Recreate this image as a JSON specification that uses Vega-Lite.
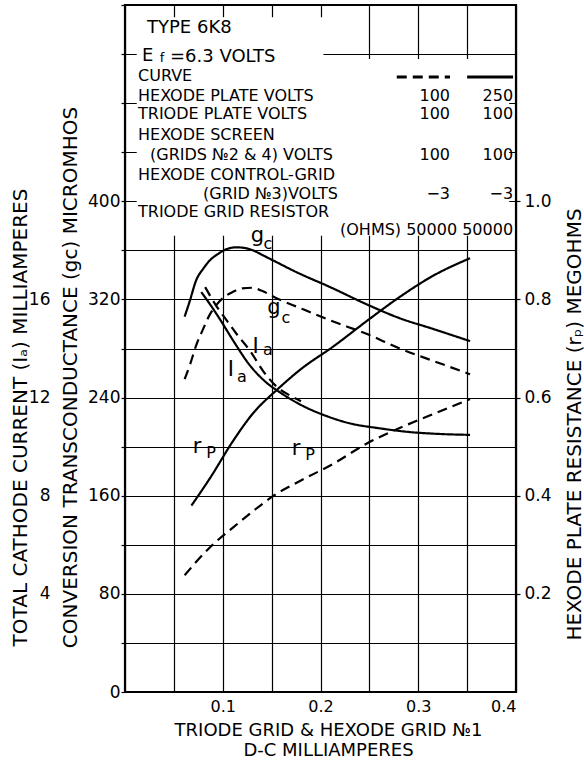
{
  "$schema": "https://vega.github.io/schema/vega-lite/v6.json",
  "width": 391,
  "height": 687,
  "autosize": {"type": "none"},
  "padding": {"left": 125, "top": 5, "right": 68, "bottom": 68},
  "background": "white",
  "config": {
    "font": "DejaVu Sans",
    "view": {"stroke": "black", "strokeWidth": 2.2},
    "axis": {
      "labelFont": "DejaVu Sans", "titleFont": "DejaVu Sans",
      "labelColor": "black", "titleColor": "black",
      "labelFontSize": 17, "titleFontSize": 20, "titleFontWeight": "normal",
      "gridColor": "black", "gridOpacity": 1, "gridWidth": 1.2,
      "tickColor": "black", "tickWidth": 1.2, "domainColor": "black"
    },
    "text": {"font": "DejaVu Sans", "color": "black"}
  },
  "datasets": {
    "curves": [
      {"q": "gc", "hv": "250", "ma": 0.061, "v": 306},
      {"q": "gc", "hv": "250", "ma": 0.066, "v": 318},
      {"q": "gc", "hv": "250", "ma": 0.073, "v": 336},
      {"q": "gc", "hv": "250", "ma": 0.080, "v": 345},
      {"q": "gc", "hv": "250", "ma": 0.087, "v": 352},
      {"q": "gc", "hv": "250", "ma": 0.095, "v": 357},
      {"q": "gc", "hv": "250", "ma": 0.104, "v": 361},
      {"q": "gc", "hv": "250", "ma": 0.114, "v": 362.5},
      {"q": "gc", "hv": "250", "ma": 0.122, "v": 362},
      {"q": "gc", "hv": "250", "ma": 0.131, "v": 360},
      {"q": "gc", "hv": "250", "ma": 0.141, "v": 356},
      {"q": "gc", "hv": "250", "ma": 0.151, "v": 352},
      {"q": "gc", "hv": "250", "ma": 0.176, "v": 342},
      {"q": "gc", "hv": "250", "ma": 0.210, "v": 330},
      {"q": "gc", "hv": "250", "ma": 0.250, "v": 315},
      {"q": "gc", "hv": "250", "ma": 0.280, "v": 305},
      {"q": "gc", "hv": "250", "ma": 0.315, "v": 296},
      {"q": "gc", "hv": "250", "ma": 0.353, "v": 286},
      {"q": "gc", "hv": "100", "ma": 0.061, "v": 255},
      {"q": "gc", "hv": "100", "ma": 0.067, "v": 268},
      {"q": "gc", "hv": "100", "ma": 0.073, "v": 283},
      {"q": "gc", "hv": "100", "ma": 0.080, "v": 296},
      {"q": "gc", "hv": "100", "ma": 0.087, "v": 308},
      {"q": "gc", "hv": "100", "ma": 0.094, "v": 316},
      {"q": "gc", "hv": "100", "ma": 0.100, "v": 321},
      {"q": "gc", "hv": "100", "ma": 0.110, "v": 326},
      {"q": "gc", "hv": "100", "ma": 0.120, "v": 329},
      {"q": "gc", "hv": "100", "ma": 0.130, "v": 329.5},
      {"q": "gc", "hv": "100", "ma": 0.140, "v": 327},
      {"q": "gc", "hv": "100", "ma": 0.155, "v": 321},
      {"q": "gc", "hv": "100", "ma": 0.179, "v": 313},
      {"q": "gc", "hv": "100", "ma": 0.213, "v": 302},
      {"q": "gc", "hv": "100", "ma": 0.247, "v": 292},
      {"q": "gc", "hv": "100", "ma": 0.281, "v": 280},
      {"q": "gc", "hv": "100", "ma": 0.315, "v": 270},
      {"q": "gc", "hv": "100", "ma": 0.353, "v": 259},
      {"q": "ia", "hv": "250", "ma": 0.078, "v": 16.3},
      {"q": "ia", "hv": "250", "ma": 0.087, "v": 15.8},
      {"q": "ia", "hv": "250", "ma": 0.097, "v": 15.2},
      {"q": "ia", "hv": "250", "ma": 0.111, "v": 14.3},
      {"q": "ia", "hv": "250", "ma": 0.128, "v": 13.3},
      {"q": "ia", "hv": "250", "ma": 0.145, "v": 12.6},
      {"q": "ia", "hv": "250", "ma": 0.159, "v": 12.2},
      {"q": "ia", "hv": "250", "ma": 0.180, "v": 11.7},
      {"q": "ia", "hv": "250", "ma": 0.206, "v": 11.25},
      {"q": "ia", "hv": "250", "ma": 0.230, "v": 10.95},
      {"q": "ia", "hv": "250", "ma": 0.260, "v": 10.75},
      {"q": "ia", "hv": "250", "ma": 0.290, "v": 10.6},
      {"q": "ia", "hv": "250", "ma": 0.320, "v": 10.52},
      {"q": "ia", "hv": "250", "ma": 0.353, "v": 10.48},
      {"q": "ia", "hv": "100", "ma": 0.082, "v": 16.5},
      {"q": "ia", "hv": "100", "ma": 0.094, "v": 15.7},
      {"q": "ia", "hv": "100", "ma": 0.104, "v": 15.15},
      {"q": "ia", "hv": "100", "ma": 0.114, "v": 14.6},
      {"q": "ia", "hv": "100", "ma": 0.128, "v": 13.9},
      {"q": "ia", "hv": "100", "ma": 0.141, "v": 13.1},
      {"q": "ia", "hv": "100", "ma": 0.155, "v": 12.45},
      {"q": "ia", "hv": "100", "ma": 0.168, "v": 12.1},
      {"q": "ia", "hv": "100", "ma": 0.180, "v": 11.85},
      {"q": "rp", "hv": "250", "ma": 0.068, "v": 0.38},
      {"q": "rp", "hv": "250", "ma": 0.087, "v": 0.436},
      {"q": "rp", "hv": "250", "ma": 0.111, "v": 0.513},
      {"q": "rp", "hv": "250", "ma": 0.131, "v": 0.568},
      {"q": "rp", "hv": "250", "ma": 0.155, "v": 0.615},
      {"q": "rp", "hv": "250", "ma": 0.180, "v": 0.658},
      {"q": "rp", "hv": "250", "ma": 0.213, "v": 0.704},
      {"q": "rp", "hv": "250", "ma": 0.250, "v": 0.760},
      {"q": "rp", "hv": "250", "ma": 0.281, "v": 0.805},
      {"q": "rp", "hv": "250", "ma": 0.315, "v": 0.848},
      {"q": "rp", "hv": "250", "ma": 0.353, "v": 0.884},
      {"q": "rp", "hv": "100", "ma": 0.061, "v": 0.238},
      {"q": "rp", "hv": "100", "ma": 0.087, "v": 0.295},
      {"q": "rp", "hv": "100", "ma": 0.111, "v": 0.336},
      {"q": "rp", "hv": "100", "ma": 0.141, "v": 0.384},
      {"q": "rp", "hv": "100", "ma": 0.152, "v": 0.400},
      {"q": "rp", "hv": "100", "ma": 0.179, "v": 0.430},
      {"q": "rp", "hv": "100", "ma": 0.213, "v": 0.465},
      {"q": "rp", "hv": "100", "ma": 0.247, "v": 0.506},
      {"q": "rp", "hv": "100", "ma": 0.281, "v": 0.538},
      {"q": "rp", "hv": "100", "ma": 0.315, "v": 0.566},
      {"q": "rp", "hv": "100", "ma": 0.353, "v": 0.597}
    ],
    "boxes": [
      {"ma": 0.012, "ma2": 0.393, "y1": 372, "y2": 516},
      {"ma": 0.012, "ma2": 0.203, "y1": 516, "y2": 550}
    ],
    "leg": [
      {"hv": "100", "ma": 0.278, "ma2": 0.3325, "y": 501.3},
      {"hv": "250", "ma": 0.350, "ma2": 0.397, "y": 501.3}
    ],
    "head": [
      {"t": "TYPE 6K8", "ma": 0.0225, "y": 541.2},
      {"t": "E", "ma": 0.0174, "y": 518.4},
      {"t": "=6.3 VOLTS", "ma": 0.046, "y": 517.6}
    ],
    "txtL": [
      {"t": "CURVE", "ma": 0.0133, "y": 502.5},
      {"t": "HEXODE PLATE VOLTS", "ma": 0.0133, "y": 485.8},
      {"t": "TRIODE PLATE VOLTS", "ma": 0.0133, "y": 471.1},
      {"t": "HEXODE SCREEN", "ma": 0.0133, "y": 454},
      {"t": "(GRIDS №2 & 4) VOLTS", "ma": 0.0256, "y": 437.7},
      {"t": "HEXODE CONTROL-GRID", "ma": 0.0133, "y": 421.4},
      {"t": "(GRID №3)VOLTS", "ma": 0.0798, "y": 406.3},
      {"t": "TRIODE GRID RESISTOR", "ma": 0.0133, "y": 391.3}
    ],
    "txtR": [
      {"t": "100", "ma": 0.3325, "y": 485.8},
      {"t": "250", "ma": 0.397, "y": 485.8},
      {"t": "100", "ma": 0.3325, "y": 471.1},
      {"t": "100", "ma": 0.397, "y": 471.1},
      {"t": "100", "ma": 0.3325, "y": 437.7},
      {"t": "100", "ma": 0.397, "y": 437.7},
      {"t": "−3", "ma": 0.3325, "y": 406.3},
      {"t": "−3", "ma": 0.397, "y": 406.3},
      {"t": "(OHMS) 50000 50000", "ma": 0.397, "y": 376.6}
    ],
    "big": [
      {"t": "g", "ma": 0.1355, "y": 371.7},
      {"t": "g", "ma": 0.1524, "y": 313},
      {"t": "I", "ma": 0.1335, "y": 281.2},
      {"t": "I", "ma": 0.1084, "y": 262.5},
      {"t": "r", "ma": 0.0737, "y": 199.7},
      {"t": "r", "ma": 0.1749, "y": 198}
    ],
    "sub": [
      {"t": "c", "ma": 0.1463, "y": 365.2},
      {"t": "c", "ma": 0.1647, "y": 304.8},
      {"t": "a", "ma": 0.1463, "y": 278.8},
      {"t": "a", "ma": 0.1197, "y": 256.8},
      {"t": "P", "ma": 0.088, "y": 194.8},
      {"t": "P", "ma": 0.1893, "y": 193.2}
    ],
    "sub2": [
      {"t": "f", "ma": 0.0379, "y": 516.5}
    ]
  },
  "encoding": {
    "x": {
      "field": "ma", "type": "quantitative",
      "scale": {"domain": [0, 0.4], "nice": false},
      "axis": {
        "values": [0, 0.05, 0.1, 0.15, 0.2, 0.25, 0.3, 0.35, 0.4],
        "grid": true, "ticks": false, "domain": false, "labelPadding": 6,
        "labelFontSize": 16,
        "format": ".1f",
        "labelExpr": "datum.value > 0.01 && abs(datum.value * 10 - round(datum.value * 10)) < 0.001 ? datum.label : ''",
        "title": ["TRIODE GRID & HEXODE GRID №1", "D-C MILLIAMPERES"],
        "titleFontSize": 18,
        "titleX": 203, "titleY": 29, "titleBaseline": "top", "titleLineHeight": 20
      }
    }
  },
  "layer": [
    {
      "data": {"name": "boxes"},
      "mark": {"type": "rect", "fill": "white", "stroke": null},
      "encoding": {
        "x2": {"field": "ma2"},
        "y": {"field": "y1", "type": "quantitative", "scale": {"domain": [0, 560], "nice": false}, "axis": null},
        "y2": {"field": "y2"}
      }
    },
    {
      "data": {"name": "curves"},
      "transform": [{"filter": "datum.q == 'gc'"}],
      "mark": {"type": "line", "color": "black", "strokeWidth": 2.2, "interpolate": "monotone"},
      "encoding": {
        "y": {
          "field": "v", "type": "quantitative",
          "scale": {"domain": [0, 560], "nice": false},
          "axis": {
            "orient": "left",
            "values": [0, 40, 80, 120, 160, 200, 240, 280, 320, 360, 400, 440, 480, 520, 560],
            "grid": true, "domain": false, "tickSize": 4, "labelPadding": 1,
            "labelExpr": "datum.value % 80 == 0 && datum.value <= 400 ? datum.label : ''",
            "title": "CONVERSION TRANSCONDUCTANCE (gc) MICROMHOS",
            "titleX": -55, "titleY": 372, "titleBaseline": "middle", "titleAngle": 270
          }
        },
        "strokeDash": {"field": "hv", "type": "nominal", "scale": {"domain": ["100", "250"], "range": [[10, 6], [1, 0]]}, "legend": null}
      }
    },
    {
      "data": {"name": "curves"},
      "transform": [{"filter": "datum.q == 'ia'"}],
      "mark": {"type": "line", "color": "black", "strokeWidth": 2.2, "interpolate": "monotone"},
      "encoding": {
        "y": {
          "field": "v", "type": "quantitative",
          "scale": {"domain": [0, 28], "nice": false},
          "axis": {
            "orient": "left", "values": [4, 8, 12, 16], "grid": false, "domain": false, "ticks": false,
            "offset": 75, "labelPadding": 0,
            "title": "TOTAL CATHODE CURRENT (Iₐ) MILLIAMPERES",
            "titleX": -30, "titleY": 412, "titleBaseline": "middle", "titleAngle": 270
          }
        },
        "strokeDash": {"field": "hv", "type": "nominal", "scale": {"domain": ["100", "250"], "range": [[10, 6], [1, 0]]}, "legend": null}
      }
    },
    {
      "data": {"name": "curves"},
      "transform": [{"filter": "datum.q == 'rp'"}],
      "mark": {"type": "line", "color": "black", "strokeWidth": 2.2, "interpolate": "monotone"},
      "encoding": {
        "y": {
          "field": "v", "type": "quantitative",
          "scale": {"domain": [0, 1.4], "nice": false},
          "axis": {
            "orient": "right", "values": [0.2, 0.4, 0.6, 0.8, 1.0], "format": ".1f",
            "grid": false, "domain": false, "tickSize": 4, "labelPadding": 4,
            "title": "HEXODE PLATE RESISTANCE (rₚ) MEGOHMS",
            "titleX": 58, "titleY": 419, "titleBaseline": "middle", "titleAngle": 270
          }
        },
        "strokeDash": {"field": "hv", "type": "nominal", "scale": {"domain": ["100", "250"], "range": [[10, 6], [1, 0]]}, "legend": null}
      }
    },
    {
      "data": {"name": "leg"},
      "mark": {"type": "rule", "color": "black", "strokeWidth": 3},
      "encoding": {
        "x2": {"field": "ma2"},
        "y": {"field": "y", "type": "quantitative", "scale": {"domain": [0, 560], "nice": false}, "axis": null},
        "strokeDash": {"field": "hv", "type": "nominal", "scale": {"domain": ["100", "250"], "range": [[10, 6], [1, 0]]}, "legend": null}
      }
    },
    {
      "data": {"name": "head"},
      "mark": {"type": "text", "align": "left", "baseline": "middle", "fontSize": 18},
      "encoding": {
        "y": {"field": "y", "type": "quantitative", "scale": {"domain": [0, 560], "nice": false}, "axis": null},
        "text": {"field": "t"}
      }
    },
    {
      "data": {"name": "txtL"},
      "mark": {"type": "text", "align": "left", "baseline": "middle", "fontSize": 16},
      "encoding": {
        "y": {"field": "y", "type": "quantitative", "scale": {"domain": [0, 560], "nice": false}, "axis": null},
        "text": {"field": "t"}
      }
    },
    {
      "data": {"name": "txtR"},
      "mark": {"type": "text", "align": "right", "baseline": "middle", "fontSize": 16},
      "encoding": {
        "y": {"field": "y", "type": "quantitative", "scale": {"domain": [0, 560], "nice": false}, "axis": null},
        "text": {"field": "t"}
      }
    },
    {
      "data": {"name": "big"},
      "mark": {"type": "text", "align": "center", "baseline": "middle", "fontSize": 21},
      "encoding": {
        "y": {"field": "y", "type": "quantitative", "scale": {"domain": [0, 560], "nice": false}, "axis": null},
        "text": {"field": "t"}
      }
    },
    {
      "data": {"name": "sub"},
      "mark": {"type": "text", "align": "center", "baseline": "middle", "fontSize": 16},
      "encoding": {
        "y": {"field": "y", "type": "quantitative", "scale": {"domain": [0, 560], "nice": false}, "axis": null},
        "text": {"field": "t"}
      }
    },
    {
      "data": {"name": "sub2"},
      "mark": {"type": "text", "align": "center", "baseline": "middle", "fontSize": 13},
      "encoding": {
        "y": {"field": "y", "type": "quantitative", "scale": {"domain": [0, 560], "nice": false}, "axis": null},
        "text": {"field": "t"}
      }
    }
  ],
  "resolve": {"scale": {"y": "independent"}}
}
